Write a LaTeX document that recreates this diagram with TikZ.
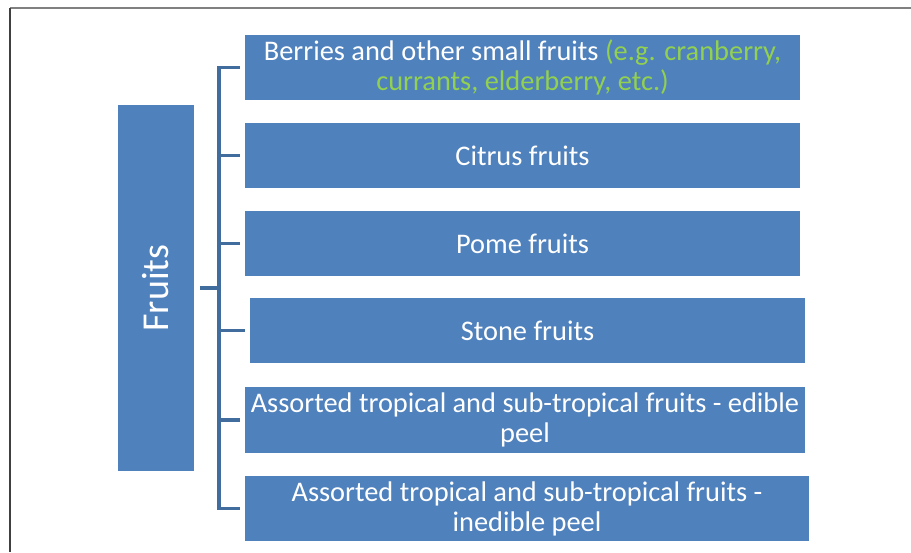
\documentclass[tikz,border=0pt]{standalone}
\usepackage{fontspec}
\setmainfont{Carlito}
\definecolor{boxblue}{RGB}{79,129,189}
\definecolor{linkblue}{RGB}{65,109,158}
\definecolor{notegreen}{RGB}{146,208,80}
\definecolor{framegray}{RGB}{128,128,128}
\begin{document}
\begin{tikzpicture}[x=1pt,y=-1pt,
  catbox/.style={fill=boxblue, draw=none, inner sep=0pt, text=white,
    align=center, font=\fontsize{28.4}{30}\selectfont},
  rootbox/.style={fill=boxblue, draw=none, inner sep=0pt, text=white,
    font=\fontsize{38}{40}\selectfont},
  link/.style={draw=linkblue, line width=3.5pt}]
\useasboundingbox (0,0) rectangle (911,552);
\fill[white] (0,0) rectangle (911,552);
% page frame (left and top edges)
\draw[framegray, line width=2pt] (10,8) -- (911,8);
\draw[black!75, line width=2pt] (10,8) -- (10,552);

% root category
\node[rootbox, minimum width=76, minimum height=366] (fruits) at (156,288) {\rotatebox{90}{Fruits}};

% sub-categories
\node[catbox, minimum width=555, minimum height=65] (b1) at (522.5,67.5)
  {Berries and other small fruits \textcolor{notegreen}{(e.g. cranberry,}\\
   \textcolor{notegreen}{currants, elderberry, etc.)}};
\node[catbox, minimum width=555, minimum height=65] (b2) at (522.5,155.5) {Citrus fruits};
\node[catbox, minimum width=555, minimum height=65] (b3) at (522.5,243.5) {Pome fruits};
\node[catbox, minimum width=555, minimum height=65] (b4) at (527.5,330.5) {Stone fruits};
\node[catbox, minimum width=560, minimum height=66] (b5) at (525,420)
  {Assorted tropical and sub-tropical fruits - edible\\ peel};
\node[catbox, minimum width=564, minimum height=65] (b6) at (527,508.5)
  {Assorted tropical and sub-tropical fruits -\\ inedible peel};

% bracket connecting the root to its sub-categories
\coordinate (spine) at (219,0);
\draw[link] ([xshift=6pt]fruits.east) -- (spine |- fruits.east);
\draw[link] ([xshift=-5pt]b1.west) -- (spine |- b1.west) -- (spine |- b6.west) -- ([xshift=-5pt]b6.west);
\foreach \b in {b2,b3,b4,b5}
  \draw[link] (spine |- \b.west) -- ([xshift=-5pt]\b.west);
\end{tikzpicture}
\end{document}
